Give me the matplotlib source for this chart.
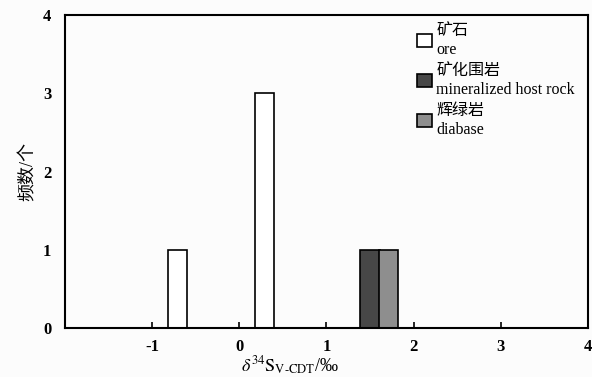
import matplotlib
matplotlib.use('Agg')
import matplotlib.pyplot as plt
from matplotlib.patches import Patch

plt.rcParams['font.family'] = ['Liberation Serif', 'Noto Sans CJK SC']
plt.rcParams['mathtext.fontset'] = 'stix'

# 数据
ore_x = [-0.71, 0.29]
ore_n = [1, 3]
host_x = [1.50]
host_n = [1]
diabase_x = [1.71]
diabase_n = [1]
bar_w = 0.22

labels = ['矿石\nore', '矿化围岩\nmineralized host rock', '辉绿岩\ndiabase']
colors = ['white', '#474747', '#8e8e8e']

fig = plt.figure(figsize=(5.92, 3.77), dpi=100)
fig.patch.set_facecolor('#fcfcfc')
ax = fig.add_axes([0.110, 0.130, 0.883, 0.830])
ax.set_facecolor('#fcfcfc')

ax.bar(ore_x, ore_n, width=bar_w, color=colors[0], edgecolor='black', linewidth=1.2)
ax.bar(host_x, host_n, width=bar_w, color=colors[1], edgecolor='black', linewidth=1.2)
ax.bar(diabase_x, diabase_n, width=bar_w, color=colors[2], edgecolor='black', linewidth=1.2)

ax.set_xlim(-2, 4)
ax.set_ylim(0, 4)
ax.set_xticks([-1, 0, 1, 2, 3, 4])
ax.set_xticklabels(['-1', '0', '1', '2', '3', '4'])
ax.set_yticks([0, 1, 2, 3, 4])
ax.tick_params(axis='x', direction='in', length=4, width=1.2, labelsize=12, pad=8)
ax.tick_params(axis='y', length=0, labelsize=12, pad=10)
for lab in ax.get_xticklabels() + ax.get_yticklabels():
    lab.set_fontweight('bold')
for s in ax.spines.values():
    s.set_linewidth(1.5)

ax.set_xlabel(r'$\delta^{34}\mathrm{S}_{\mathrm{V‐CDT}}$/‰', fontsize=13)
ax.xaxis.set_label_coords(0.43, -0.085)
ax.set_ylabel('频数/个', fontsize=13)
ax.yaxis.set_label_coords(-0.055, 0.5)

handles = [Patch(facecolor=c, edgecolor='black', linewidth=1.2) for c in colors]
leg = ax.legend(handles, labels, loc='upper right', bbox_to_anchor=(0.997, 1.01),
                frameon=False, fontsize=11.5, handlelength=0.9, handleheight=0.9,
                handletextpad=0.3, labelspacing=0.35, borderaxespad=0.3)

fig.savefig('out.png', dpi=100, facecolor=fig.get_facecolor())
